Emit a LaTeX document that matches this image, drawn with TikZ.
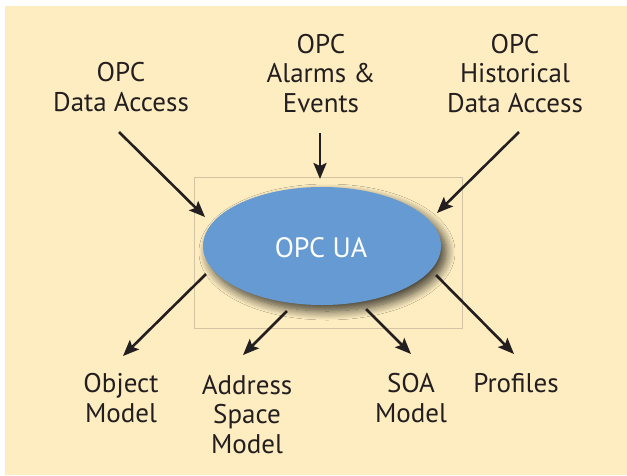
\documentclass[tikz,border=0pt]{standalone}
\usepackage{fontspec}
\setmainfont{PT Sans}
\usetikzlibrary{arrows.meta,shapes.geometric,shadows.blur}
\definecolor{bgyellow}{HTML}{FDEDC1}
\definecolor{uablue}{HTML}{659BD2}
\definecolor{framec}{HTML}{D2C4A4}
\definecolor{inkc}{HTML}{231F20}
\begin{document}
\begin{tikzpicture}[x=1pt,y=-1pt,
  lbl/.style={font=\fontsize{27}{29.5}\selectfont, text=inkc, align=center, anchor=base, inner sep=0pt},
  arr/.style={draw=inkc, line width=2.6pt, -{Stealth[length=16pt,width=13pt,inset=3pt]}}]
\useasboundingbox (0,0) rectangle (627,475);
\fill[bgyellow] (5,6) rectangle (627,475);
\draw[framec, line width=0.8pt] (194,177) rectangle (462,328);
\node[ellipse, fill=uablue, minimum width=238pt, minimum height=118pt, inner sep=0pt,
  blur shadow={shadow xshift=5pt, shadow yshift=-6pt, shadow blur radius=9pt, shadow blur steps=12, shadow opacity=75}]
  (ua) at (322,246) {};
\node[font=\fontsize{28}{30}\selectfont, text=white, anchor=base, inner sep=0pt] (uatext) at (321,257) {OPC UA};
% top labels (anchor = baseline of last line)
\node[lbl] (da) at (121,111) {OPC\\Data Access};
\node[lbl] (ae) at (321,112) {OPC\\Alarms \&\\Events};
\node[lbl] (hda) at (515,112) {OPC\\Historical\\Data Access};
% bottom labels
\node[lbl] (om) at (121,422) {Object\\Model};
\node[lbl] (asm) at (247,453) {Address\\Space\\Model};
\node[lbl] (soa) at (411,422) {SOA\\Model};
\node[lbl] (pr) at (516,392) {Profiles};
% arrow end points
\coordinate (da1) at (119,132); \coordinate (da2) at (205,217);
\coordinate (ae1) at (320,133); \coordinate (ae2) at (320,179);
\coordinate (hd1) at (519,132); \coordinate (hd2) at (437,213);
\coordinate (om1) at (206,274); \coordinate (om2) at (123,356);
\coordinate (as1) at (287,311); \coordinate (as2) at (243,355);
\coordinate (so1) at (366,309); \coordinate (so2) at (411,354);
\coordinate (pr1) at (436,275); \coordinate (pr2) at (514,354);
\draw[arr] (da1) -- (da2);
\draw[arr] (ae1) -- (ae2);
\draw[arr] (hd1) -- (hd2);
\draw[arr] (om1) -- (om2);
\draw[arr] (as1) -- (as2);
\draw[arr] (so1) -- (so2);
\draw[arr] (pr1) -- (pr2);
\end{tikzpicture}
\end{document}
